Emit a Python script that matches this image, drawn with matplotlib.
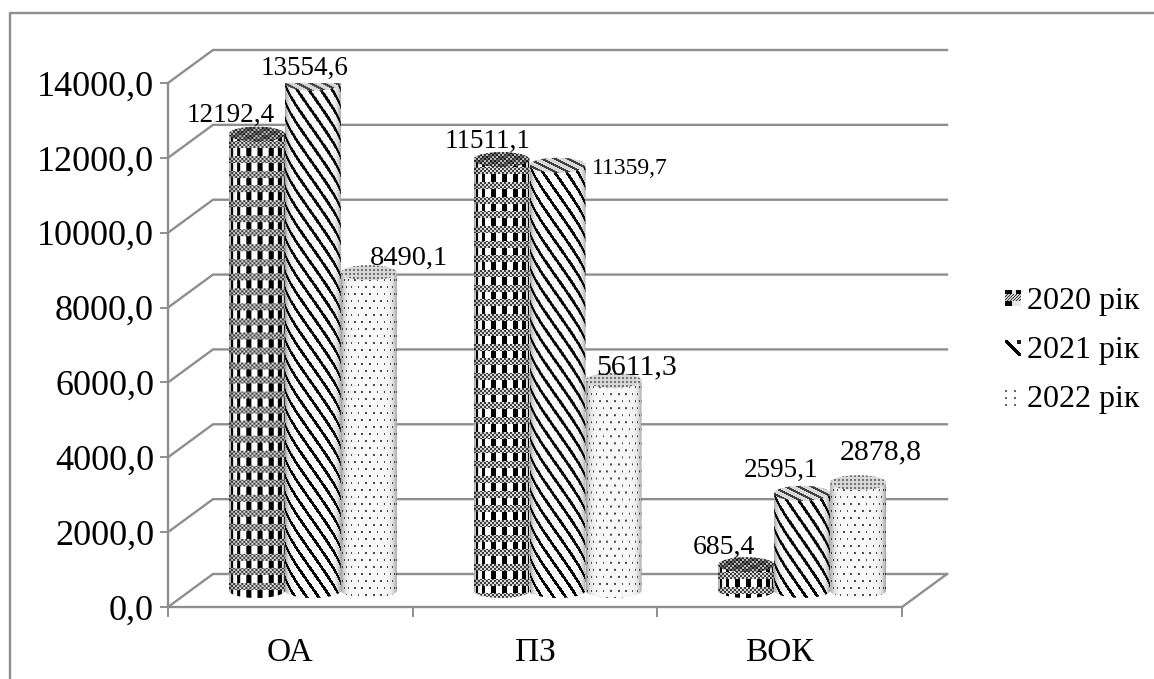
import numpy as np
import matplotlib
matplotlib.use('Agg')
import matplotlib.pyplot as plt
from matplotlib.patches import Ellipse, PathPatch, Patch
from matplotlib.path import Path

plt.rcParams['font.family'] = ['Liberation Serif', 'DejaVu Serif']

categories = ['ОА', 'ПЗ', 'ВОК']
series_names = ['2020 рік', '2021 рік', '2022 рік']
values_2020 = [12192.4, 11511.1, 685.4]
values_2021 = [13554.6, 11359.7, 2595.1]
values_2022 = [8490.1, 5611.3, 2878.8]
y_ticks = [0, 2000, 4000, 6000, 8000, 10000, 12000, 14000]

# label offsets from bar top in pixels, and font sizes
label_dx = [[-26, -8, 40], [-14, 72, 23], [-22, -21, 23]]
label_dy = [[19, 15, 14], [18, -3, 13], [17, 23, 30]]
label_fs = [[19.5, 19.5, 20.5], [19.5, 17, 21.5], [20, 19.5, 21.5]]

GRID = '#8e8e8e'
W, H = 1154, 679

# axes covers the front plane of the 3d box
fig = plt.figure(figsize=(W / 100, H / 100), dpi=100)
left, right, top, bottom = 168, 902, 83, 607
ax = fig.add_axes([left / W, 1 - bottom / H, (right - left) / W, (bottom - top) / H])
ax.set_facecolor('none')
px_x = 3 / (right - left)
px_y = 14000 / (bottom - top)
depth_x, depth_y = 45 * px_x, 33 * px_y


def texture(kind, w, h, cap=False):
    t = np.linspace(-0.995, 0.995, w)
    theta = np.arcsin(t)
    yy, xx = np.mgrid[0:h, 0:w]
    th = theta[xx]
    if kind == 0:
        band = (yy % 14.7) < 7
        cols = ((th * 2.4) % 1.0) < 0.45
        fine = ((xx // 2 + yy // 2) % 2) == 0
        img = np.where(band, np.where(fine, 0.25, 0.85), np.where(cols, 0.0, 1.0))
        if cap:
            img = np.where((xx // 2 + yy // 2) % 2 == 0, 0.2, 0.72)
            img = np.where((xx // 8 + yy // 4) % 2 == 0, img * 0.6, img)
    elif kind == 1:
        s = 0.6 * t[xx] + 0.4 * th / (np.pi / 2)
        phase = (yy - 46 * s) / 17.0
        img = np.where((phase % 1.0) < 0.3, 0.03, 0.98)
        if cap:
            phase = (yy * 2.0 - xx) / 13.0
            img = np.where((phase % 1.0) < 0.35, 0.25, 0.85)
    else:
        row = np.floor(yy / 7.0)
        dots = (((th * 3.5 + row * 0.5) % 1.0) < 0.22) & ((yy % 7.0) < 2)
        img = np.where(dots, 0.3, 0.97)
        if cap:
            img = np.where(((xx + 2 * (yy // 2)) % 4 < 2) & (yy % 4 < 2), 0.45, 0.84)
    if not cap:
        img = img * (0.66 + 0.34 * np.clip(1 - np.abs(t) ** 8, 0, 1))[None, :]
    return img


def cylinder(x0, width, value, kind, z):
    base = depth_y / 2
    cap_h = 15 * px_y
    x1 = x0 + width
    xc = x0 + width / 2
    yt = base + value
    # body outline: bottom half ellipse, sides, top half ellipse
    a = np.linspace(np.pi, 2 * np.pi, 40)
    bx = xc + width / 2 * np.cos(a)
    by = base + cap_h / 2 * np.sin(a)
    b2 = np.linspace(0, np.pi, 40)
    tx = xc + width / 2 * np.cos(b2)
    ty = yt + cap_h / 2 * np.sin(b2)
    verts = np.column_stack([np.r_[bx, tx], np.r_[by, ty]])
    body = PathPatch(Path(np.vstack([verts, verts[0]]), closed=True), fc='none', ec='none',
                     transform=ax.transData)
    ax.add_patch(body)
    h_px = int(round((value + cap_h) / px_y))
    w_px = int(round(width / px_x))
    im = ax.imshow(texture(kind, w_px, h_px), cmap='gray', vmin=0, vmax=1, aspect='auto',
                   extent=(x0, x1, base - cap_h / 2, yt + cap_h / 2), origin='upper',
                   interpolation='bilinear', zorder=z)
    im.set_clip_path(body)
    cap = Ellipse((xc, yt), width, cap_h, fc='none', ec='none', transform=ax.transData)
    ax.add_patch(cap)
    im2 = ax.imshow(texture(kind, w_px, 15, cap=True), cmap='gray', vmin=0, vmax=1, aspect='auto',
                    extent=(x0, x1, yt - cap_h / 2, yt + cap_h / 2), origin='upper',
                    interpolation='bilinear', zorder=z + 0.1)
    im2.set_clip_path(cap)


# walls and floor
for v in y_ticks:
    ax.plot([0, depth_x, 3 + depth_x], [v, v + depth_y, v + depth_y], color=GRID, lw=1.7,
            clip_on=False, zorder=1, solid_joinstyle='miter')
ax.plot([3, 3 + depth_x], [0, depth_y], color=GRID, lw=1.7, clip_on=False, zorder=1)

bar_w = 56 * px_x
series = [values_2020, values_2021, values_2022]
for i in range(3):
    start = i + depth_x / 2 + 0.5 - 1.5 * bar_w
    for s in range(3):
        x0 = start + s * bar_w
        cylinder(x0, bar_w, series[s][i], s, 3 + s)
        ax.annotate(f'{series[s][i]:.1f}'.replace('.', ','),
                    (x0 + bar_w / 2, depth_y / 2 + series[s][i]),
                    xytext=(label_dx[i][s], label_dy[i][s]), textcoords='offset pixels',
                    ha='center', va='center', fontsize=label_fs[i][s], zorder=10,
                    annotation_clip=False)

ax.set_xlim(0, 3)
ax.set_ylim(0, 14000)
ax.set_xticks([0, 1, 2, 3])
ax.set_xticklabels([])
ax.set_xticks([0.5, 1.5, 2.5], categories, minor=True)
ax.set_yticks(y_ticks)
ax.set_yticklabels([f'{v:.1f}'.replace('.', ',') for v in y_ticks], fontsize=26)
ax.tick_params(axis='y', length=6, width=1.4, color=GRID, pad=4)
ax.tick_params(axis='x', which='major', length=7, width=1.4, color=GRID)
ax.tick_params(axis='x', which='minor', length=0, labelsize=24, pad=22)
for sp in ['top', 'right']:
    ax.spines[sp].set_visible(False)
for sp in ['left', 'bottom']:
    ax.spines[sp].set_color(GRID)
    ax.spines[sp].set_linewidth(1.7)

# legend, swatches are small hand made versions of the textures
handles = [Patch(fc='none', ec='none', label=n) for n in series_names]
fig.legend(handles=handles, loc='center left', bbox_to_anchor=(1008 / W, 1 - 350 / H), frameon=False,
           fontsize=23, handlelength=0.4, handletextpad=0.2, labelspacing=0.62, borderpad=0, borderaxespad=0)
sx, sy = np.meshgrid(np.arange(16), np.arange(16))
swatches = [
    np.where((sy > 3) & (sy < 11), np.where((sx + sy) % 3 == 0, 0.2, 0.8),
             np.where((sx < 7) | ((sx > 10) & (sy < 4)), 0.0, 0.9)),
    np.where(np.abs(sx - sy) < 3, 0.0, np.where((sx > 11) & (sy < 4), 0.1, 1.0)),
    np.where((sx % 9 < 2) & (sy % 7 < 2), 0.4, 1.0),
]
for sw, yc in zip(swatches, [298, 348, 398]):
    fig.figimage(sw, 1005, H - yc - 8, cmap='gray', vmin=0, vmax=1, zorder=5)

# outer chart frame
fig.add_artist(plt.Line2D([10 / W, 10 / W, 1], [0, 1 - 13 / H, 1 - 13 / H], color=GRID, lw=1.7))

fig.savefig('out.png', dpi=100)
